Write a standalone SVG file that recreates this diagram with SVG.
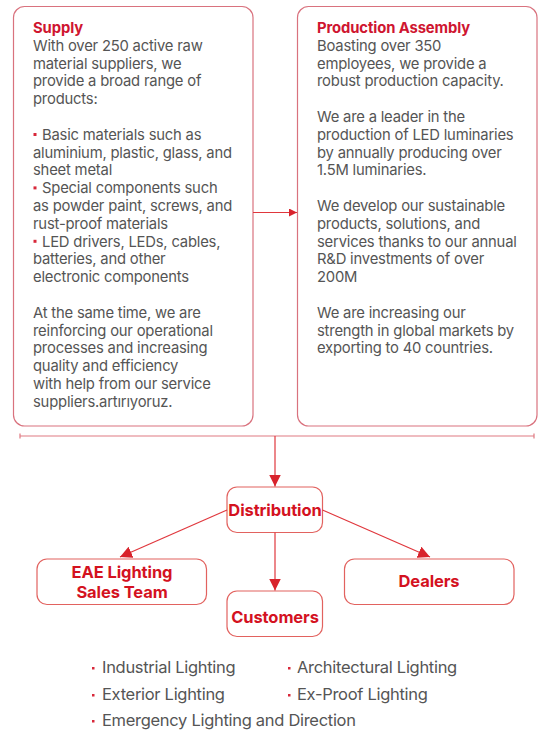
<svg xmlns="http://www.w3.org/2000/svg" width="551" height="742" viewBox="0 0 551 742">
<defs>
<style>
.bigbox{fill:#fff;stroke:#d9727e;stroke-width:1.2}
.box{fill:#fff;stroke:#e2625f;stroke-width:1.2}
.body{font-family:Inter,"Noto Sans",sans-serif;font-size:14.8px;letter-spacing:-0.2px;fill:#555}
.title{font-family:Inter,"Noto Sans",sans-serif;font-size:14.8px;font-weight:700;letter-spacing:-0.1px;fill:#cf1530}
.node{font-family:Inter,"Noto Sans",sans-serif;font-size:16.5px;font-weight:700;letter-spacing:-0.1px;fill:#d4121f;text-anchor:middle}
.list{font-family:Inter,"Noto Sans",sans-serif;font-size:16.5px;letter-spacing:-0.3px;fill:#555}
.bul{fill:#d8283a}
.conn{stroke:#e0373d;stroke-width:1.2;fill:none}
.bar{stroke:#e07a82;stroke-width:1.2;fill:none}
</style>
<marker id="arr" viewBox="0 0 10 10" refX="10" refY="5" markerWidth="8" markerHeight="8" markerUnits="userSpaceOnUse" orient="auto">
<path d="M0,0 L10,5 L0,10 z" fill="#d8232c"/>
</marker>
<marker id="arrB" viewBox="0 0 10 10" refX="10" refY="5" markerWidth="12" markerHeight="12" markerUnits="userSpaceOnUse" orient="auto">
<path d="M0,0 L10,5 L0,10 z" fill="#d8232c"/>
</marker>
</defs>
<rect width="551" height="742" fill="#fff"/>

<g id="supply">
<rect class="bigbox" x="13.5" y="6.5" width="239.5" height="419.5" rx="11"/>
<text class="title" x="33" y="33">Supply</text>
<text class="body">
<tspan x="33" y="50.8">With over 250 active raw</tspan>
<tspan x="33" y="68.6">material suppliers, we</tspan>
<tspan x="33" y="86.4">provide a broad range of</tspan>
<tspan x="33" y="104.2">products:</tspan>
<tspan x="42" y="139.8">Basic materials such as</tspan>
<tspan x="33" y="157.6">aluminium, plastic, glass, and</tspan>
<tspan x="33" y="175.4">sheet metal</tspan>
<tspan x="42" y="193.2">Special components such</tspan>
<tspan x="33" y="211">as powder paint, screws, and</tspan>
<tspan x="33" y="228.8">rust-proof materials</tspan>
<tspan x="42" y="246.6">LED drivers, LEDs, cables,</tspan>
<tspan x="33" y="264.4">batteries, and other</tspan>
<tspan x="33" y="282.2">electronic components</tspan>
<tspan x="33" y="317.8">At the same time, we are</tspan>
<tspan x="33" y="335.6">reinforcing our operational</tspan>
<tspan x="33" y="353.4">processes and increasing</tspan>
<tspan x="33" y="371.2">quality and efficiency</tspan>
<tspan x="33" y="389">with help from our service</tspan>
<tspan x="33" y="406.8">suppliers.artırıyoruz.</tspan>
</text>
<rect class="bul" x="33.5" y="133" width="3" height="3"/>
<rect class="bul" x="33.5" y="186.4" width="3" height="3"/>
<rect class="bul" x="33.5" y="239.8" width="3" height="3"/>
</g>

<g id="production">
<rect class="bigbox" x="297.5" y="6.5" width="239.5" height="419.5" rx="11"/>
<text class="title" x="317" y="33">Production Assembly</text>
<text class="body">
<tspan x="317" y="50.8">Boasting over 350</tspan>
<tspan x="317" y="68.6">employees, we provide a</tspan>
<tspan x="317" y="86.4">robust production capacity.</tspan>
<tspan x="317" y="122">We are a leader in the</tspan>
<tspan x="317" y="139.8">production of LED luminaries</tspan>
<tspan x="317" y="157.6">by annually producing over</tspan>
<tspan x="317" y="175.4">1.5M luminaries.</tspan>
<tspan x="317" y="211">We develop our sustainable</tspan>
<tspan x="317" y="228.8">products, solutions, and</tspan>
<tspan x="317" y="246.6">services thanks to our annual</tspan>
<tspan x="317" y="264.4">R&amp;D investments of over</tspan>
<tspan x="317" y="282.2">200M</tspan>
<tspan x="317" y="317.8">We are increasing our</tspan>
<tspan x="317" y="335.6">strength in global markets by</tspan>
<tspan x="317" y="353.4">exporting to 40 countries.</tspan>
</text>
</g>

<g id="distribution">
<rect class="box" x="227" y="487" width="95.5" height="45.5" rx="10"/>
<text class="node" x="275" y="516">Distribution</text>
</g>
<g id="sales-team">
<rect class="box" x="37" y="559" width="169.5" height="45.5" rx="10"/>
<text class="node" x="122" y="578">EAE Lighting</text>
<text class="node" x="122" y="598">Sales Team</text>
</g>
<g id="customers">
<rect class="box" x="227" y="591" width="95.5" height="45.5" rx="10"/>
<text class="node" x="275" y="623">Customers</text>
</g>
<g id="dealers">
<rect class="box" x="344.5" y="559" width="169.5" height="45.5" rx="10"/>
<text class="node" x="429" y="587">Dealers</text>
</g>

<g id="connectors">
<line class="conn" x1="253" y1="212.5" x2="297" y2="212.5" marker-end="url(#arr)"/>
<path class="bar" d="M20,436 H534 M20,433.5 V438.5 M534,433.5 V438.5"/>
<line class="conn" x1="275" y1="436" x2="275" y2="486.5" marker-end="url(#arrB)"/>
<line class="conn" x1="227" y1="510" x2="120" y2="557" marker-end="url(#arrB)"/>
<line class="conn" x1="322.5" y1="510" x2="430" y2="557" marker-end="url(#arrB)"/>
<line class="conn" x1="275" y1="532.5" x2="275" y2="590.5" marker-end="url(#arrB)"/>
</g>

<g id="products">
<rect class="bul" x="92" y="667" width="2.5" height="2.5"/>
<text class="list" x="102" y="673">Industrial Lighting</text>
<rect class="bul" x="288" y="667" width="2.5" height="2.5"/>
<text class="list" x="297" y="673">Architectural Lighting</text>
<rect class="bul" x="92" y="694" width="2.5" height="2.5"/>
<text class="list" x="102" y="700">Exterior Lighting</text>
<rect class="bul" x="288" y="694" width="2.5" height="2.5"/>
<text class="list" x="297" y="700">Ex-Proof Lighting</text>
<rect class="bul" x="92" y="720" width="2.5" height="2.5"/>
<text class="list" x="102" y="726">Emergency Lighting and Direction</text>
</g>
</svg>
